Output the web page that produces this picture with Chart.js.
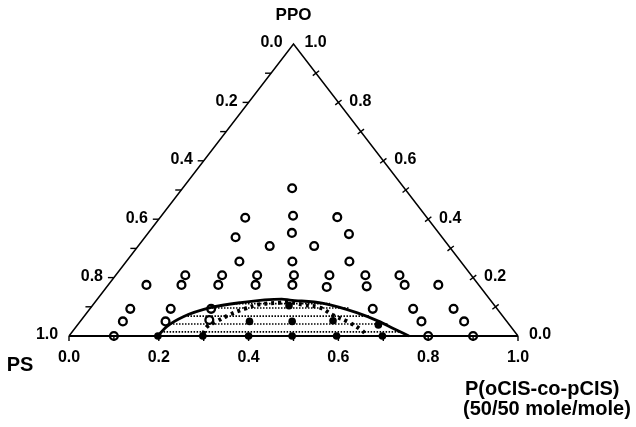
<!DOCTYPE html>
<html><head><meta charset="utf-8">
<script src="https://cdn.jsdelivr.net/npm/chart.js@4"></script>
<style>html,body{margin:0;padding:0;background:#fff}canvas{display:block}</style>
</head><body>
<canvas id="c" width="636" height="427"></canvas>
<script>
// Compositions as [P(oCIS-co-pCIS) fraction, PPO fraction]; PS = 1 - P - PPO
const onePhase = [
  [0.10,0],[0.80,0],[0.90,0],
  [0.095,0.05],[0.19,0.05],[0.285,0.055],[0.76,0.05],[0.855,0.05],
  [0.09,0.093],[0.18,0.093],[0.27,0.093],[0.63,0.093],[0.72,0.093],[0.81,0.093],
  [0.085,0.175],[0.163,0.175],[0.245,0.175],[0.328,0.175],[0.41,0.175],[0.49,0.168],[0.578,0.17],[0.66,0.175],[0.735,0.175],
  [0.155,0.208],[0.237,0.208],[0.315,0.208],[0.397,0.208],[0.476,0.208],[0.556,0.208],[0.632,0.208],
  [0.252,0.255],[0.37,0.255],[0.497,0.255],
  [0.293,0.308],[0.392,0.308],
  [0.202,0.338],[0.32,0.353],[0.449,0.349],
  [0.19,0.405],[0.293,0.412],[0.394,0.407],
  [0.244,0.506]
];
const twoPhase = [
  [0.198,0],[0.298,0],[0.400,0],[0.497,0],[0.596,0],[0.698,0],
  [0.377,0.05],[0.472,0.05],[0.562,0.052],[0.67,0.038],
  [0.438,0.104]
];
const binodal = [
  [0.1975,0],[0.2016,0.032],[0.2216,0.066],[0.2662,0.097],[0.324,0.114],
  [0.4107,0.126],[0.4305,0.123],[0.5104,0.112],[0.6008,0.080],[0.6634,0.051],
  [0.7093,0.026],[0.757,0]
];
const spinodal = [
  [0.295,0.008],[0.2912,0.031],[0.304,0.050],[0.3193,0.071],[0.3453,0.0935],
  [0.3711,0.1086],[0.413,0.114],[0.43,0.116],[0.4683,0.107],[0.5105,0.097],
  [0.553,0.071],[0.598,0.048],[0.6423,0.0195],[0.662,0.002]
];
const tiePPO    = [0.014, 0.041, 0.068, 0.096, 0.111];
const tieLeftP  = [0.197, 0.2045, 0.2232, 0.2638, 0.3098];
const tieRightP = [0.7324, 0.69, 0.6364, 0.5778, 0.5258];
const bottomLabels = ['0.0','0.2','0.4','0.6','0.8','1.0'];
const psLabels  = ['0.0','0.2','0.4','0.6','0.8','1.0'];
const ppoLabels = ['1.0','0.8','0.6','0.4','0.2','0.0'];

const toXY = ([p, ppo]) => ({x: p + ppo / 2, y: ppo});

const lineDs = (data, w, dash) => ({
  data, showLine: true, borderColor: '#000', borderWidth: w, borderDash: dash || [],
  pointRadius: 0, fill: false, clip: false, tension: 0
});

const datasets = [
  lineDs([{x:0,y:0},{x:0.5,y:1},{x:1,y:0}], 1.5),
  lineDs([{x:0,y:0},{x:1,y:0}], 2.2),
];
tiePPO.forEach((h, i) => {
  datasets.push(lineDs([toXY([tieLeftP[i], h]), toXY([tieRightP[i], h])], 1.6, [1.5, 1.5]));
});
datasets.push(Object.assign(lineDs(binodal.map(toXY), 2.8), {cubicInterpolationMode: 'monotone', tension: 0.4}));
datasets.push(Object.assign(lineDs(spinodal.map(toXY), 4, [3, 4]), {tension: 0.4, borderCapStyle: 'butt'}));
datasets.push({data: twoPhase.map(toXY), pointRadius: 3.8, pointBackgroundColor: '#000', pointBorderColor: '#000', pointBorderWidth: 0, showLine: false, clip: false});
datasets.push({data: onePhase.map(toXY), pointRadius: 3.9, pointBackgroundColor: '#fff', pointBorderColor: '#000', pointBorderWidth: 2.3, showLine: false, clip: false});

const ternaryText = {
  id: 'ternaryText',
  afterDatasetsDraw(chart) {
    const ctx = chart.ctx, xs = chart.scales.x, ys = chart.scales.y;
    const X = v => xs.getPixelForValue(v), Y = v => ys.getPixelForValue(v);
    ctx.save();
    ctx.strokeStyle = '#000'; ctx.fillStyle = '#000'; ctx.lineWidth = 1.4;
    // bottom ticks
    for (let i = 0; i <= 10; i++) {
      const px = X(i / 10), py = Y(0);
      ctx.beginPath(); ctx.moveTo(px, py); ctx.lineTo(px, py + 5); ctx.stroke();
    }
    // left edge ticks
    for (let i = 1; i <= 9; i++) {
      const h = i / 10, px = X(h / 2), py = Y(h);
      ctx.beginPath(); ctx.moveTo(px - 6, py); ctx.lineTo(px, py); ctx.stroke();
    }
    // right edge ticks (perpendicular)
    const ex = X(0.5) - X(1), ey = Y(1) - Y(0), el = Math.hypot(ex, ey);
    const nx = -ey / el, ny = ex / el;
    for (let i = 1; i <= 9; i++) {
      const h = i / 10, px = X(1 - h / 2), py = Y(h);
      ctx.beginPath(); ctx.moveTo(px - 4 * nx, py - 4 * ny); ctx.lineTo(px + 4 * nx, py + 4 * ny); ctx.stroke();
    }
    ctx.font = 'bold 16px "Liberation Sans", Arial, sans-serif';
    ctx.textAlign = 'center'; ctx.textBaseline = 'middle';
    bottomLabels.forEach((t, i) => ctx.fillText(t, X(i * 0.2), Y(0) + 22));
    psLabels.forEach((t, i) => { const h = 1 - i * 0.2; ctx.fillText(t, X(h / 2) - 22, Y(h) - 1); });
    ppoLabels.forEach((t, i) => { const h = 1 - i * 0.2; ctx.fillText(t, X(1 - h / 2) + 22, Y(h) - 1); });
    ctx.font = 'bold 17px "Liberation Sans", Arial, sans-serif';
    ctx.fillText('PPO', X(0.5), Y(1) - 29);
    ctx.font = 'bold 20px "Liberation Sans", Arial, sans-serif';
    ctx.fillText('PS', 20, Y(0) + 29);
    ctx.textAlign = 'left';
    ctx.fillText('P(oCIS-co-pCIS)', 465, Y(0) + 53);
    ctx.fillText('(50/50 mole/mole)', 463, Y(0) + 73);
    ctx.restore();
  }
};

new Chart(document.getElementById('c'), {
  type: 'scatter',
  data: {datasets},
  options: {
    responsive: false, animation: false,
    layout: {padding: {left: 69, right: 118, top: 44, bottom: 91}},
    plugins: {legend: {display: false}, tooltip: {enabled: false}},
    scales: {
      x: {type: 'linear', min: 0, max: 1, display: false},
      y: {type: 'linear', min: 0, max: 1, display: false}
    }
  },
  plugins: [ternaryText]
});
</script>
</body></html>
